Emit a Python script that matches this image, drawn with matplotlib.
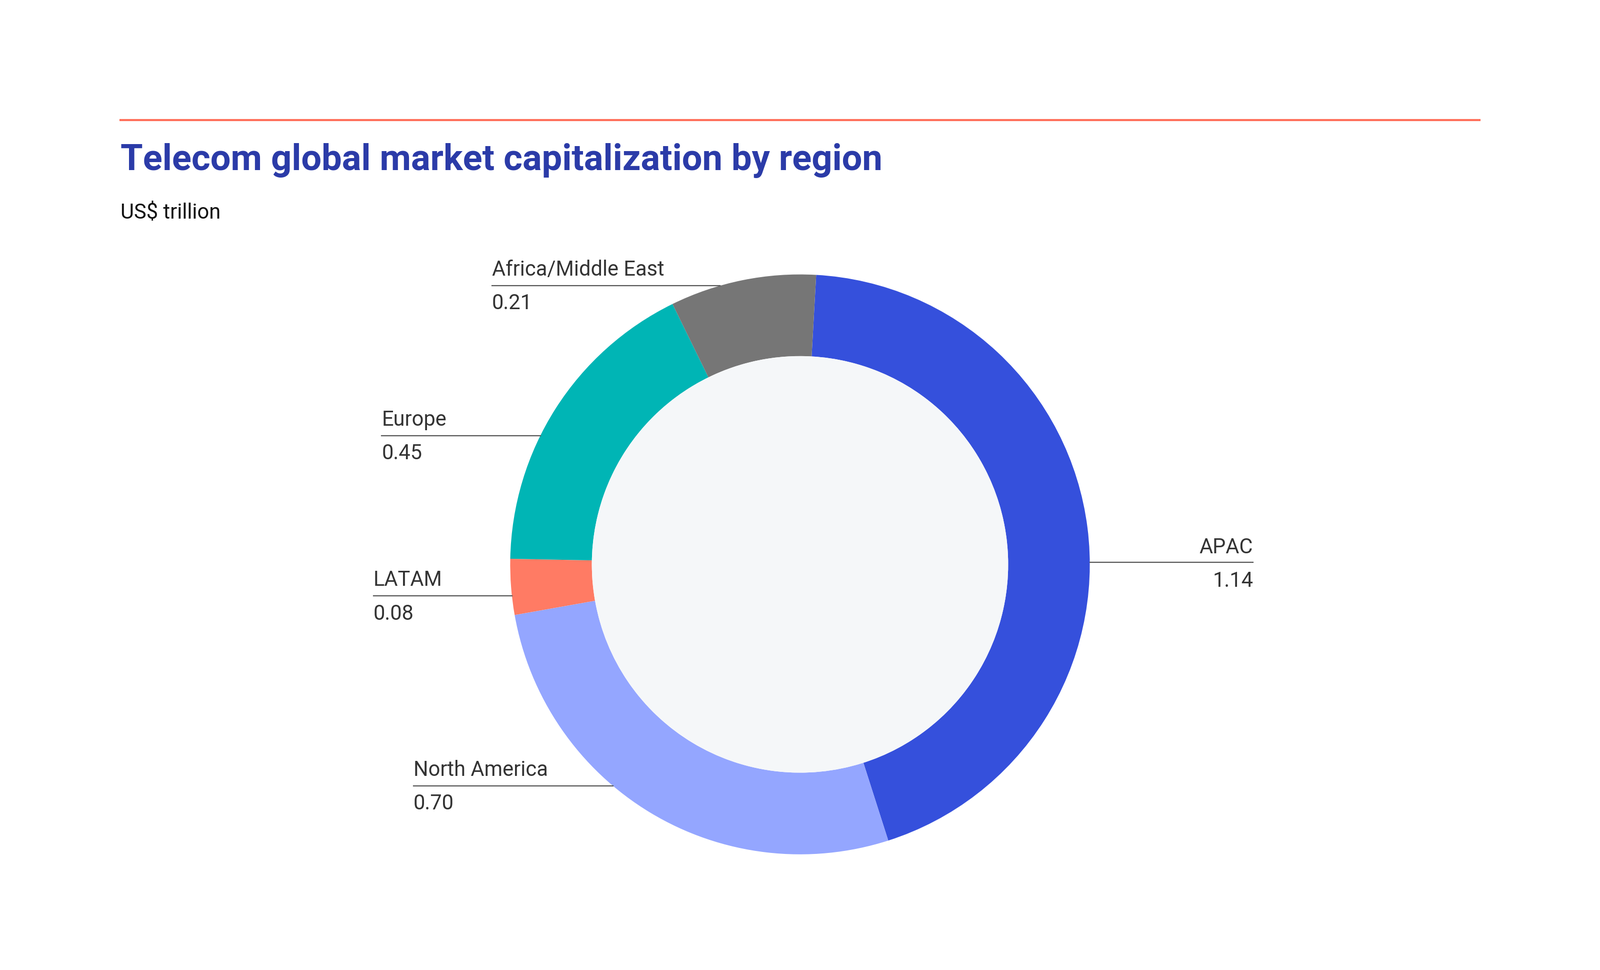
import matplotlib
matplotlib.use("Agg")
import matplotlib.pyplot as plt
import numpy as np

plt.rcParams["font.family"] = "Roboto"

regions = ["APAC", "North America", "LATAM", "Europe", "Africa/Middle East"]
values = [1.14, 0.70, 0.08, 0.45, 0.21]
value_labels = ["1.14", "0.70", "0.08", "0.45", "0.21"]
colors = ["#3550DC", "#94A6FF", "#FF7B64", "#00B5B5", "#767676"]

W, H = 1568, 950
fig = plt.figure(figsize=(16, 9.7), dpi=200)
ax = fig.add_axes([0, 0, 1, 1])
ax.set_xlim(0, W)
ax.set_ylim(0, H)
ax.set_aspect("equal")
ax.axis("off")

def Y(y):
    return H - y

cx, cy, R, r = 784, 553, 284, 204
ax.pie(values, colors=colors, startangle=86.8, counterclock=False,
       center=(cx, Y(cy)), radius=R, frame=True,
       wedgeprops=dict(width=R - r, linewidth=0))
ax.add_patch(plt.Circle((cx, Y(cy)), r, color="#F5F7F9", lw=0))
ax.set_xlim(0, W); ax.set_ylim(0, H); ax.axis("off")

ax.plot([118, 1450], [Y(118), Y(118)], color="#FF6F5A", lw=1.5)
ax.text(118, Y(157), "Telecom global market capitalization by region", fontsize=26,
        fontweight="bold", color="#2B3BA8", va="center", ha="left")
ax.text(118, Y(208), "US$ trillion", fontsize=15, color="#111111", va="center", ha="left")

# label placement (text x, line y) for left-side labels
left_pos = {"North America": (405, 770), "LATAM": (366, 584),
            "Europe": (374, 427), "Africa/Middle East": (482, 280)}
lc = "#333333"
for name, val in zip(regions, value_labels):
    if name == "APAC":
        ly = 551
        x0 = cx + np.sqrt(R**2 - (ly - cy)**2)
        ax.plot([x0, 1228], [Y(ly), Y(ly)], color="#555555", lw=0.8)
        ax.text(1228, Y(ly - 15), name, fontsize=15, color=lc, ha="right", va="center")
        ax.text(1228, Y(ly + 18), val, fontsize=15, color=lc, ha="right", va="center")
    else:
        tx, ly = left_pos[name]
        x1 = cx - np.sqrt(R**2 - (ly - cy)**2)
        ax.plot([tx, x1], [Y(ly), Y(ly)], color="#555555", lw=0.8)
        ax.text(tx, Y(ly - 16), name, fontsize=15, color=lc, ha="left", va="center")
        ax.text(tx, Y(ly + 17), val, fontsize=15, color=lc, ha="left", va="center")

fig.savefig("out.png", dpi=200, facecolor="white")
